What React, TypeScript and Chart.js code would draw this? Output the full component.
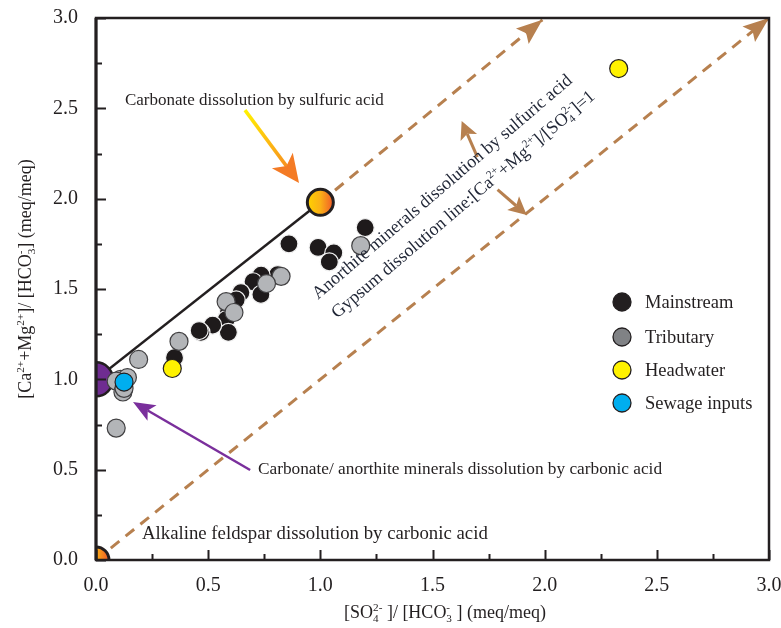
import React, { useEffect, useRef } from 'react';
import { Chart, registerables } from 'chart.js';

Chart.register(...registerables);

const FONT = "'Liberation Serif', 'Times New Roman', serif";

// ---- data ----
const mainstreamX = [1.2, 0.86, 0.99, 1.06, 1.04, 0.81, 0.736, 0.70, 0.735, 0.646, 0.625, 0.59, 0.58, 0.59, 0.52, 0.468, 0.46, 0.35];
const mainstreamY = [1.84, 1.75, 1.73, 1.70, 1.65, 1.58, 1.577, 1.54, 1.47, 1.48, 1.44, 1.37, 1.33, 1.26, 1.30, 1.26, 1.27, 1.12];

const tributaryX = [1.18, 0.825, 0.76, 0.58, 0.615, 0.37, 0.19, 0.11, 0.14, 0.09, 0.12, 0.125, 0.09];
const tributaryY = [1.74, 1.57, 1.53, 1.43, 1.37, 1.21, 1.11, 1.0, 1.01, 0.99, 0.93, 0.95, 0.73];

const headwaterX = [0.34, 2.33];
const headwaterY = [1.06, 2.72];

const sewageX = [0.125];
const sewageY = [0.985];

const purpleEndX = [0];
const purpleEndY = [1.0];

const orangeEndX = [0, 1.0];
const orangeEndY = [0, 1.98];

const gypsumLineX = [0, 3];
const gypsumLineY = [0, 3];

const carbonateLineX = [0, 1.0];
const carbonateLineY = [1.0, 1.98];

const sulfuricLineX = [1.0, 1.99];
const sulfuricLineY = [1.98, 2.99];

const legendLabels = ['Mainstream', 'Tributary', 'Headwater', 'Sewage inputs'];
const legendColors = ['#231f20', '#808285', '#fff200', '#00aeef'];

const axisMin = 0;
const axisMax = 3;
const tickStep = 0.25;

const BROWN = '#b7804f';
const INK = '#231f20';

const pts = (xs: number[], ys: number[]) => xs.map((x, i) => ({ x, y: ys[i] }));

type Seg = { t: string; k?: 'sup' | 'sub' } | { sub: string; sup: string };

function setFont(ctx: CanvasRenderingContext2D, size: number) {
  ctx.font = `${size}px ${FONT}`;
}

function measureRich(ctx: CanvasRenderingContext2D, segs: Seg[], size: number) {
  let w = 0;
  const small = size * 0.62;
  for (const s of segs) {
    if ('t' in s) {
      setFont(ctx, s.k ? small : size);
      w += ctx.measureText(s.t).width;
    } else {
      setFont(ctx, small);
      w += Math.max(ctx.measureText(s.sub).width, ctx.measureText(s.sup).width);
    }
  }
  return w;
}

function drawRich(ctx: CanvasRenderingContext2D, segs: Seg[], x: number, y: number, size: number, align: 'left' | 'center') {
  const small = size * 0.62;
  let cx = align === 'center' ? x - measureRich(ctx, segs, size) / 2 : x;
  ctx.textAlign = 'left';
  ctx.textBaseline = 'alphabetic';
  for (const s of segs) {
    if ('t' in s) {
      const sz = s.k ? small : size;
      setFont(ctx, sz);
      const dy = s.k === 'sup' ? -size * 0.4 : s.k === 'sub' ? size * 0.22 : 0;
      ctx.fillText(s.t, cx, y + dy);
      cx += ctx.measureText(s.t).width;
    } else {
      setFont(ctx, small);
      ctx.fillText(s.sub, cx, y + size * 0.22);
      ctx.fillText(s.sup, cx, y - size * 0.4);
      cx += Math.max(ctx.measureText(s.sub).width, ctx.measureText(s.sup).width);
    }
  }
}

function arrowHead(ctx: CanvasRenderingContext2D, tx: number, ty: number, ang: number, len: number, hw: number, notch: number) {
  ctx.save();
  ctx.translate(tx, ty);
  ctx.rotate(ang);
  ctx.beginPath();
  ctx.moveTo(0, 0);
  ctx.lineTo(-len, -hw);
  ctx.lineTo(-len + notch, 0);
  ctx.lineTo(-len, hw);
  ctx.closePath();
  ctx.fill();
  ctx.restore();
}

function arrow(ctx: CanvasRenderingContext2D, sx: number, sy: number, tx: number, ty: number, width: number, len: number, hw: number, notch: number, stroke: any, fill: any) {
  const ang = Math.atan2(ty - sy, tx - sx);
  const ex = tx - Math.cos(ang) * (len - notch);
  const ey = ty - Math.sin(ang) * (len - notch);
  ctx.save();
  ctx.strokeStyle = stroke;
  ctx.lineWidth = width;
  ctx.beginPath();
  ctx.moveTo(sx, sy);
  ctx.lineTo(ex, ey);
  ctx.stroke();
  ctx.fillStyle = fill;
  arrowHead(ctx, tx, ty, ang, len, hw, notch);
  ctx.restore();
}

const yTitle: Seg[] = [{ t: '[Ca' }, { t: '2+', k: 'sup' }, { t: '+Mg' }, { t: '2+', k: 'sup' }, { t: ']/ [HCO' }, { sub: '3', sup: '-' }, { t: '] (meq/meq)' }];
const xTitle: Seg[] = [{ t: '[SO' }, { sub: '4', sup: '2-' }, { t: ' ]/ [HCO' }, { sub: '3', sup: '-' }, { t: ' ] (meq/meq)' }];
const gypsumText: Seg[] = [{ t: 'Gypsum dissolution line:[Ca' }, { t: '2+', k: 'sup' }, { t: '+Mg' }, { t: '2+', k: 'sup' }, { t: ']/[SO' }, { sub: '4', sup: '2-' }, { t: ']=1' }];

const decorPlugin = {
  id: 'decor',
  afterDatasetsDraw(chart: any) {
    const ctx: CanvasRenderingContext2D = chart.ctx;
    const xs = chart.scales.x;
    const ys = chart.scales.y;
    const X = (v: number) => xs.getPixelForValue(v);
    const Y = (v: number) => ys.getPixelForValue(v);
    ctx.save();

    // arrowheads on dashed lines
    ctx.fillStyle = BROWN;
    {
      const n = gypsumLineX.length - 1;
      const ang = Math.atan2(Y(gypsumLineY[n]) - Y(gypsumLineY[0]), X(gypsumLineX[n]) - X(gypsumLineX[0]));
      arrowHead(ctx, X(gypsumLineX[n]), Y(gypsumLineY[n]), ang, 26, 10, 5);
      const m = sulfuricLineX.length - 1;
      const ang2 = Math.atan2(Y(sulfuricLineY[m]) - Y(sulfuricLineY[0]), X(sulfuricLineX[m]) - X(sulfuricLineX[0]));
      arrowHead(ctx, X(sulfuricLineX[m]), Y(sulfuricLineY[m]), ang2, 26, 10, 5);
    }

    // small brown arrows
    arrow(ctx, X(1.70), Y(2.23), X(1.63), Y(2.43), 3, 18, 9, 4, BROWN, BROWN);
    arrow(ctx, X(1.79), Y(2.05), X(1.92), Y(1.91), 3, 18, 9, 4, BROWN, BROWN);

    // orange gradient arrow
    {
      const sx = X(0.664), sy = Y(2.49), tx = X(0.905), ty = Y(2.087);
      const g = ctx.createLinearGradient(sx, sy, tx, ty);
      g.addColorStop(0, '#fff200');
      g.addColorStop(0.45, '#fdb913');
      g.addColorStop(0.75, '#f7941d');
      g.addColorStop(1, '#f15a29');
      arrow(ctx, sx, sy, tx, ty, 3.5, 28, 13, 7, g, '#f47b25');
    }

    // purple arrow
    arrow(ctx, X(0.687), Y(0.498), X(0.165), Y(0.875), 2.5, 22, 9, 5, '#7a2f9c', '#7a2f9c');

    // texts
    ctx.fillStyle = INK;
    ctx.textBaseline = 'middle';
    ctx.textAlign = 'left';
    setFont(ctx, 17);
    ctx.fillText('Carbonate dissolution by sulfuric acid', X(0.129), Y(2.545));
    setFont(ctx, 17.3);
    ctx.fillText('Carbonate/ anorthite minerals dissolution by carbonic acid', X(0.722), Y(0.5));
    setFont(ctx, 18.8);
    ctx.fillText('Alkaline feldspar dissolution by carbonic acid', X(0.205), Y(0.145));

    // rotated texts
    ctx.fillStyle = '#1f2535';
    const rot = (-40.5 * Math.PI) / 180;
    ctx.save();
    ctx.translate(X(0.99), Y(1.44));
    ctx.rotate(rot);
    setFont(ctx, 18);
    ctx.textBaseline = 'alphabetic';
    ctx.fillText('Anorthite minerals dissolution by sulfuric acid', 0, 0);
    ctx.restore();
    ctx.save();
    ctx.translate(X(1.075), Y(1.335));
    ctx.rotate(rot);
    drawRich(ctx, gypsumText, 0, 0, 18, 'left');
    ctx.restore();

    ctx.restore();
  },
  afterDraw(chart: any) {
    const ctx: CanvasRenderingContext2D = chart.ctx;
    const a = chart.chartArea;
    const xs = chart.scales.x;
    const ys = chart.scales.y;
    ctx.save();
    // inward ticks
    ctx.strokeStyle = INK;
    ctx.lineWidth = 2;
    ctx.beginPath();
    for (const t of xs.ticks) {
      const p = Math.round(xs.getPixelForValue(t.value)) + 0.5;
      const major = Math.abs(t.value * 2 - Math.round(t.value * 2)) < 1e-6;
      ctx.moveTo(p, a.bottom);
      ctx.lineTo(p, a.bottom - (major ? 10 : 6));
    }
    for (const t of ys.ticks) {
      const p = Math.round(ys.getPixelForValue(t.value)) + 0.5;
      const major = Math.abs(t.value * 2 - Math.round(t.value * 2)) < 1e-6;
      ctx.moveTo(a.left, p);
      ctx.lineTo(a.left + (major ? 10 : 6), p);
    }
    ctx.stroke();
    // frame
    ctx.lineWidth = 2.5;
    ctx.strokeRect(a.left, a.top, a.right - a.left, a.bottom - a.top);
    ctx.lineWidth = 3;
    ctx.beginPath();
    ctx.moveTo(a.left, a.top);
    ctx.lineTo(a.left, a.bottom);
    ctx.stroke();

    // legend
    const lx = a.left + 526;
    const lys = [302, 337, 370, 403];
    legendLabels.forEach((lab, i) => {
      const cy = lys[i];
      ctx.beginPath();
      ctx.arc(lx, cy, 9, 0, Math.PI * 2);
      ctx.fillStyle = legendColors[i];
      ctx.fill();
      ctx.lineWidth = 1.3;
      ctx.strokeStyle = INK;
      ctx.stroke();
      ctx.fillStyle = INK;
      setFont(ctx, 18.5);
      ctx.textAlign = 'left';
      ctx.textBaseline = 'middle';
      ctx.fillText(lab, lx + 23, cy + 1);
    });

    // axis titles
    ctx.fillStyle = INK;
    drawRich(ctx, xTitle, 445, 618, 18, 'center');
    ctx.save();
    ctx.translate(31, 279);
    ctx.rotate(-Math.PI / 2);
    drawRich(ctx, yTitle, 0, 0, 18, 'center');
    ctx.restore();

    ctx.restore();
  },
};

const fmt = (v: any) => {
  const n = Number(v);
  return Math.abs(n * 2 - Math.round(n * 2)) < 1e-6 ? n.toFixed(1) : '';
};

function orangeFill(ctx: any) {
  const chart = ctx.chart;
  const raw = ctx.raw;
  const sx = chart && chart.scales && chart.scales.x;
  if (!raw || !sx) return '#f7941d';
  const px = sx.getPixelForValue(raw.x);
  if (!Number.isFinite(px)) return '#f7941d';
  const r = 13;
  const g = chart.ctx.createLinearGradient(px - r, 0, px + r, 0);
  g.addColorStop(0, '#ffd200');
  g.addColorStop(0.5, '#fbb016');
  g.addColorStop(1, '#f15a29');
  return g;
}

export default function App() {
  const ref = useRef<HTMLCanvasElement | null>(null);
  useEffect(() => {
    if (!ref.current) return;
    const chart = new Chart(ref.current, {
      type: 'scatter',
      data: {
        datasets: [
          {
            label: 'Sewage inputs',
            data: pts(sewageX, sewageY),
            backgroundColor: '#00aeef',
            borderColor: INK,
            borderWidth: 1.2,
            pointRadius: 9,
            order: 0,
            clip: 0,
          },
          {
            label: 'Headwater',
            data: pts(headwaterX, headwaterY),
            backgroundColor: '#fff200',
            borderColor: INK,
            borderWidth: 1.2,
            pointRadius: 9,
            order: 1,
            clip: 0,
          },
          {
            label: 'Tributary',
            data: pts(tributaryX, tributaryY),
            backgroundColor: '#b3b5b8',
            borderColor: '#414042',
            borderWidth: 1.2,
            pointRadius: 9,
            order: 2,
            clip: 0,
          },
          {
            label: 'Mainstream',
            data: pts(mainstreamX, mainstreamY),
            backgroundColor: '#1e1a1b',
            borderColor: '#f2f2f2',
            borderWidth: 1.2,
            pointRadius: 9,
            order: 3,
            clip: 0,
          },
          {
            label: 'Purple end-member',
            data: pts(purpleEndX, purpleEndY),
            backgroundColor: '#6f2c91',
            borderColor: INK,
            borderWidth: 2.5,
            pointRadius: 17,
            order: 4,
            clip: 0,
          },
          {
            label: 'Orange end-member',
            data: pts(orangeEndX, orangeEndY),
            backgroundColor: orangeFill,
            borderColor: INK,
            borderWidth: 3,
            pointRadius: 13,
            order: 4,
            clip: 0,
          },
          {
            label: 'Carbonate line',
            data: pts(carbonateLineX, carbonateLineY),
            showLine: true,
            borderColor: INK,
            borderWidth: 2.5,
            pointRadius: 0,
            order: 5,
            clip: 0,
          },
          {
            label: 'Gypsum line',
            data: pts(gypsumLineX, gypsumLineY),
            showLine: true,
            borderColor: BROWN,
            borderWidth: 3,
            borderDash: [11, 8],
            pointRadius: 0,
            order: 6,
            clip: 0,
          },
          {
            label: 'Sulfuric line',
            data: pts(sulfuricLineX, sulfuricLineY),
            showLine: true,
            borderColor: BROWN,
            borderWidth: 3,
            borderDash: [11, 8],
            pointRadius: 0,
            order: 6,
            clip: false,
          },
        ] as any,
      },
      options: {
        animation: false,
        responsive: true,
        maintainAspectRatio: false,
        events: [],
        layout: { autoPadding: false, padding: { top: 18, right: 12, left: 0, bottom: 0 } },
        plugins: { legend: { display: false }, tooltip: { enabled: false }, title: { display: false } },
        scales: {
          x: {
            type: 'linear',
            min: axisMin,
            max: axisMax,
            afterFit: (s: any) => {
              s.height = 68;
              s.paddingLeft = 0;
              s.paddingRight = 0;
            },
            grid: { display: false, drawTicks: false },
            border: { display: false },
            ticks: {
              stepSize: tickStep,
              autoSkip: false,
              maxRotation: 0,
              padding: 14,
              color: INK,
              font: { family: FONT, size: 20 },
              callback: fmt,
            },
          },
          y: {
            type: 'linear',
            min: axisMin,
            max: axisMax,
            afterFit: (s: any) => {
              s.width = 96;
              s.paddingTop = 0;
              s.paddingBottom = 0;
            },
            grid: { display: false, drawTicks: false },
            border: { display: false },
            ticks: {
              stepSize: tickStep,
              autoSkip: false,
              padding: 18,
              color: INK,
              font: { family: FONT, size: 20 },
              callback: fmt,
            },
          },
        },
      } as any,
      plugins: [decorPlugin],
    });
    return () => chart.destroy();
  }, []);
  return (
    <div style={{ position: 'absolute', left: 0, top: 0, width: 781, height: 628, background: '#fff' }}>
      <canvas ref={ref} />
    </div>
  );
}
